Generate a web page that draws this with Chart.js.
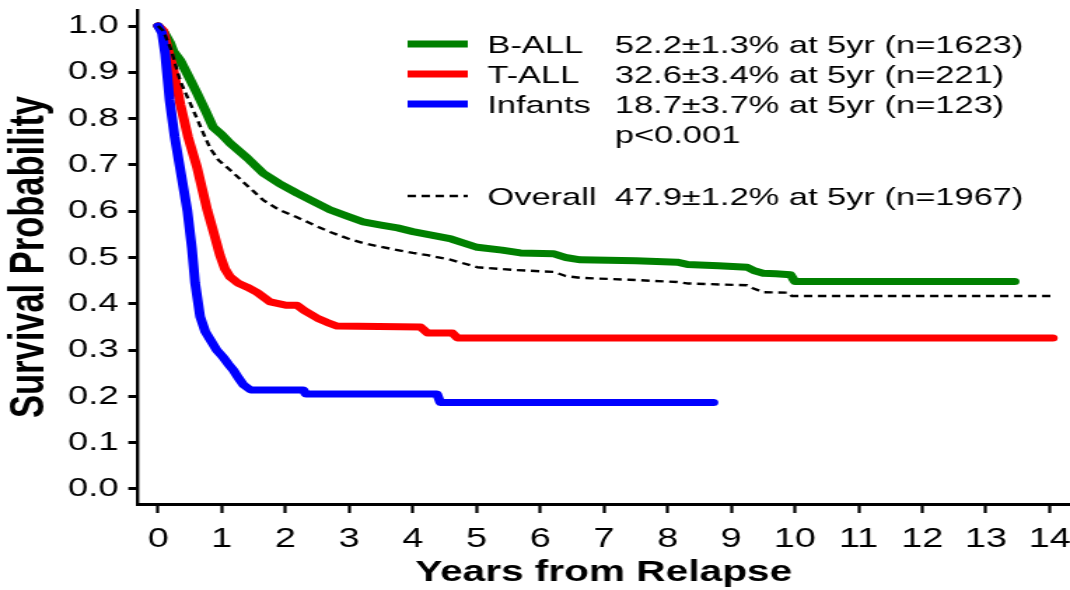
<!DOCTYPE html>
<html>
<head>
<meta charset="utf-8">
<script src="https://cdn.jsdelivr.net/npm/chart.js@4"></script>
<style>
  html, body { margin: 0; padding: 0; background: #fff; }
  #wrap { width: 1070px; height: 590px; overflow: hidden; }
</style>
</head>
<body>
<div id="wrap">
  <!-- drawn at 764 px wide, shown stretched across 1070 px -->
  <canvas id="km" width="764" height="590" style="width:1070px;height:590px"></canvas>
</div>
<script>
// Kaplan-Meier estimates: time (years) and survival probability
const bAllTime = [0, 0.1, 0.19, 0.24, 0.35, 0.5, 0.61, 0.75, 0.86, 1.0, 1.13, 1.4, 1.65, 1.9, 2.18, 2.45, 2.7, 3.0, 3.22, 3.5, 3.76, 4.0, 4.27, 4.6, 5.01, 5.4, 5.69, 6.21, 6.4, 6.63, 7.5, 8.15, 8.31, 8.8, 9.25, 9.35, 9.5, 9.7, 9.93, 10.0, 13.45];
const bAllSurv = [1.0, 0.985, 0.963, 0.945, 0.925, 0.885, 0.855, 0.815, 0.782, 0.765, 0.747, 0.715, 0.682, 0.66, 0.639, 0.62, 0.603, 0.588, 0.577, 0.57, 0.564, 0.556, 0.549, 0.54, 0.522, 0.516, 0.51, 0.508, 0.5, 0.495, 0.493, 0.49, 0.485, 0.482, 0.479, 0.472, 0.466, 0.465, 0.463, 0.448, 0.448];

const tAllTime = [0, 0.08, 0.19, 0.24, 0.35, 0.47, 0.61, 0.77, 0.88, 0.97, 1.05, 1.13, 1.25, 1.4, 1.55, 1.76, 2.0, 2.18, 2.3, 2.5, 2.65, 2.81, 4.12, 4.23, 4.62, 4.7, 14.05];
const tAllSurv = [1.0, 0.99, 0.93, 0.905, 0.83, 0.76, 0.695, 0.603, 0.55, 0.505, 0.475, 0.458, 0.445, 0.436, 0.425, 0.404, 0.397, 0.397, 0.385, 0.369, 0.36, 0.352, 0.35, 0.337, 0.337, 0.326, 0.326];

const infTime = [0, 0.06, 0.11, 0.18, 0.26, 0.36, 0.46, 0.53, 0.58, 0.66, 0.74, 0.82, 0.92, 1.02, 1.1, 1.18, 1.26, 1.34, 1.45, 2.28, 2.32, 4.38, 4.43, 8.72];
const infSurv = [1.0, 0.985, 0.94, 0.84, 0.76, 0.68, 0.6, 0.52, 0.445, 0.372, 0.34, 0.322, 0.3, 0.285, 0.27, 0.257, 0.24, 0.225, 0.214, 0.214, 0.205, 0.205, 0.187, 0.187];

const allTime = [0, 0.08, 0.2, 0.35, 0.48, 0.61, 0.72, 0.82, 0.95, 1.13, 1.4, 1.65, 1.9, 2.18, 2.45, 2.7, 3.0, 3.22, 3.5, 3.76, 4.0, 4.23, 4.6, 5.01, 5.6, 6.21, 6.4, 6.63, 7.4, 8.15, 8.31, 9.25, 9.35, 9.51, 9.9, 9.95, 14.05];
const allSurv = [1.0, 0.99, 0.95, 0.88, 0.84, 0.8, 0.765, 0.735, 0.71, 0.689, 0.655, 0.624, 0.603, 0.587, 0.57, 0.555, 0.54, 0.531, 0.523, 0.516, 0.51, 0.505, 0.495, 0.479, 0.473, 0.469, 0.46, 0.456, 0.452, 0.447, 0.444, 0.44, 0.433, 0.425, 0.424, 0.417, 0.417];

const xTicks = [0, 1, 2, 3, 4, 5, 6, 7, 8, 9, 10, 11, 12, 13, 14];
const yTicks = [0, 0.1, 0.2, 0.3, 0.4, 0.5, 0.6, 0.7, 0.8, 0.9, 1.0];

const groupNames = ['B-ALL', 'T-ALL', 'Infants'];
const groupStats = ['52.2\u00b11.3% at 5yr (n=1623)', '32.6\u00b13.4% at 5yr (n=221)', '18.7\u00b13.7% at 5yr (n=123)'];
const groupColors = ['#008000', '#ff0000', '#0000ff'];
const pValueText = 'p<0.001';
const overallName = 'Overall';
const overallStat = '47.9\u00b11.2% at 5yr (n=1967)';

const FONT = "'Liberation Sans', Arial, Helvetica, sans-serif";

function toPoints(times, surv) {
    return times.map((t, i) => ({ x: t, y: surv[i] }));
}

function curve(label, times, surv, color, width, dash) {
    return {
        label: label,
        data: toPoints(times, surv),
        borderColor: color,
        borderWidth: width,
        borderDash: dash || [],
        borderCapStyle: dash ? 'butt' : 'round',
        borderJoinStyle: 'round',
        pointRadius: 0,
        tension: 0,
        fill: false
    };
}

// keep the plot box fixed: no extra room for overhanging tick labels
function noLabelPadding(scale) {
    scale.paddingLeft = 0;
    scale.paddingRight = 0;
    scale.paddingTop = 0;
    scale.paddingBottom = 0;
}

// legend box in the upper right, drawn straight onto the canvas
const kmLegend = {
    id: 'kmLegend',
    afterDraw(chart) {
        const ctx = chart.ctx;
        const lineX1 = 291, lineX2 = 334, nameX = 348, statX = 439;
        const rows = [44, 74, 104];
        ctx.save();
        ctx.font = '24.6px ' + FONT;
        ctx.fillStyle = '#000';
        ctx.textBaseline = 'alphabetic';
        rows.forEach((y, i) => {
            ctx.strokeStyle = groupColors[i];
            ctx.lineWidth = 7;
            ctx.setLineDash([]);
            ctx.beginPath();
            ctx.moveTo(lineX1, y);
            ctx.lineTo(lineX2, y);
            ctx.stroke();
            ctx.fillText(groupNames[i], nameX, y + 8.5);
            ctx.fillText(groupStats[i], statX, y + 8.5);
        });
        ctx.fillText(pValueText, statX, 134 + 8.5);

        const oy = 196;
        ctx.strokeStyle = '#000';
        ctx.lineWidth = 2.4;
        ctx.setLineDash([6, 4]);
        ctx.beginPath();
        ctx.moveTo(lineX1, oy);
        ctx.lineTo(lineX2, oy);
        ctx.stroke();
        ctx.setLineDash([]);
        ctx.fillText(overallName, nameX, oy + 8.5);
        ctx.fillText(overallStat, statX, oy + 8.5);
        ctx.restore();
    }
};

const ctx = document.getElementById('km').getContext('2d');
const kmChart = new Chart(ctx, {
    type: 'line',
    data: {
        datasets: [
            curve(overallName, allTime, allSurv, '#000000', 2.4, [6, 4]),
            curve(groupNames[2], infTime, infSurv, groupColors[2], 7),
            curve(groupNames[1], tAllTime, tAllSurv, groupColors[1], 7),
            curve(groupNames[0], bAllTime, bAllSurv, groupColors[0], 7)
        ]
    },
    options: {
        responsive: false,
        maintainAspectRatio: false,
        animation: false,
        devicePixelRatio: 1,
        layout: { padding: { top: 10, right: 0, bottom: 0, left: 0 } },
        plugins: {
            legend: { display: false },
            tooltip: { enabled: false }
        },
        scales: {
            x: {
                type: 'linear',
                min: -0.328,
                max: 14.32,
                afterFit: (scale) => { scale.height = 86; noLabelPadding(scale); },
                afterBuildTicks: (scale) => { scale.ticks = xTicks.map(v => ({ value: v })); },
                border: { display: true, color: '#000', width: 3 },
                grid: { drawOnChartArea: false, drawTicks: true, tickLength: 9, tickWidth: 2.2, tickColor: '#000' },
                ticks: {
                    color: '#000',
                    font: { family: FONT, size: 27 },
                    padding: 10,
                    maxRotation: 0,
                    autoSkip: false,
                    callback: (v) => String(v)
                },
                title: {
                    display: true,
                    text: 'Years from Relapse',
                    color: '#000',
                    font: { family: FONT, size: 29, weight: 'bold', lineHeight: 1.2 },
                    padding: { top: 0, bottom: 0 }
                }
            },
            y: {
                type: 'linear',
                min: -0.0324,
                max: 1.0346,
                afterFit: (scale) => { scale.width = 98; noLabelPadding(scale); },
                afterBuildTicks: (scale) => { scale.ticks = yTicks.map(v => ({ value: v })); },
                border: { display: true, color: '#000', width: 2.4 },
                grid: { drawOnChartArea: false, drawTicks: true, tickLength: 6.4, tickWidth: 3, tickColor: '#000' },
                ticks: {
                    color: '#000',
                    font: { family: FONT, size: 26 },
                    padding: 7,
                    autoSkip: false,
                    callback: (v) => v.toFixed(1)
                },
                title: {
                    display: true,
                    text: 'Survival Probability',
                    color: '#000',
                    font: { family: FONT, size: 34.5, weight: 'bold', lineHeight: 1.2 },
                    padding: { top: 1, bottom: 0 }
                }
            }
        }
    },
    plugins: [kmLegend]
});
</script>
</body>
</html>
